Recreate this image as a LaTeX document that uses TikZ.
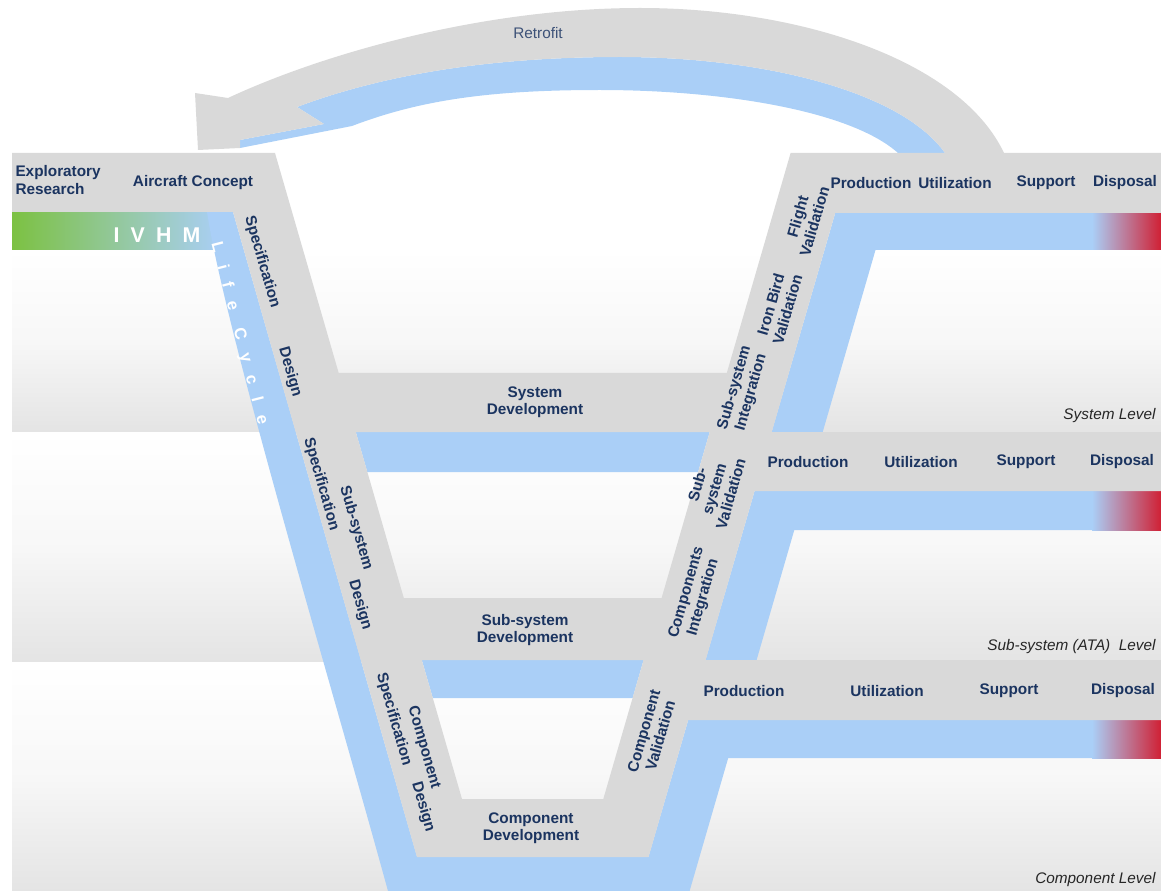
\documentclass[tikz,border=0pt]{standalone}
\usepackage{fontspec}
\setmainfont{Liberation Sans}
\usepackage{tikz}
\definecolor{vgray}{RGB}{217,217,217}
\definecolor{vblue}{RGB}{170,207,247}
\definecolor{vnavy}{RGB}{27,52,96}
\definecolor{ivgreen}{RGB}{124,193,66}
\definecolor{ivred}{RGB}{208,32,52}
\definecolor{bandgray}{RGB}{228,228,228}
\tikzset{every picture/.style={line width=0.75pt}}
\tikzset{
  stage/.style={font=\bfseries\fontsize{11.5}{13}\selectfont, text=vnavy, align=center, inner sep=0.75pt},
  downleg/.style={stage, rotate=-74},
  upleg/.style={stage, rotate=74},
  levelname/.style={font=\itshape\fontsize{11.5}{13}\selectfont, text=black!85, anchor=east, inner sep=0.75pt},
  band/.style={top color=white, bottom color=bandgray, middle color=white!97!black},
  fade/.style={left color=vblue, right color=ivred},
}

\begin{document}
\begin{tikzpicture}[x=0.75pt,y=0.75pt,yscale=-1,xscale=1]
\useasboundingbox (0,0) rectangle (1161,891);

%Shape: Rectangle (level bands)
\fill[band] (12,250) rectangle (1161,432);
\fill[band] (12,432) rectangle (1161,662);
\fill[band] (12,662) rectangle (1161,891);
%Shape: Rectangle (IVHM bar)
\fill[left color=ivgreen, right color=vblue] (12,212) rectangle (222,250);

%Shape: Retrofit arrow, blue side
\fill[vblue] (898,153) .. controls (850,110) and (720,90) .. (600,90) .. controls (490,90) and (420,100) .. (352,126) -- (240,148) -- (240,140) -- (324,124) -- (297,107) .. controls (390,72) and (500,57) .. (620,57) .. controls (760,57) and (900,90) .. (945,153) -- cycle ;
%Shape: Retrofit arrow, grey face
\fill[vgray] (1004,153) .. controls (960,60) and (800,8) .. (640,8) .. controls (480,8) and (320,55) .. (228,98) -- (195,93) -- (198,150) -- (240,148) -- (240,140) -- (324,124) -- (297,107) .. controls (390,72) and (500,57) .. (620,57) .. controls (760,57) and (900,90) .. (945,153) -- cycle ;

%Shape: Polygon (blue outer V)
\fill[vblue] (207,212) .. controls (225,330) and (330,680) .. (388,891) -- (689.6,891) -- (728.2,758) -- (1161,758) -- (1161,720) -- (688.2,720) -- (648.5,857) -- (417,857) -- (233,212) -- cycle ;
%Shape: Polygon (blue under system development)
\fill[vblue] (355.8,432) -- (709.7,432) -- (698.1,472) -- (367.3,472) -- cycle ;
%Shape: Polygon (blue under sub-system development)
\fill[vblue] (421.8,660) -- (643.6,660) -- (632.6,698) -- (432.8,698) -- cycle ;
%Shape: Polygon (blue, system level right)
\fill[vblue] (835.2,213) -- (1161,213) -- (1161,250) -- (875.5,250) -- (822.7,432) -- (771.7,432) -- cycle ;
%Shape: Polygon (blue, sub-system level right)
\fill[vblue] (754.6,491) -- (1161,491) -- (1161,530) -- (794.3,530) -- (756.6,660) -- (705.6,660) -- cycle ;
%Shape: Rectangle (disposal fades)
\fill[fade] (1092,213) rectangle (1161,250);
\fill[fade] (1092,491) rectangle (1161,530);
\fill[fade] (1092,720) rectangle (1161,758);

%Shape: Polygon (grey V with two openings)
\fill[vgray, even odd rule] (12,153) -- (275,153) -- (338.7,373) -- (726.8,373) -- (790.6,153) -- (1161,153) -- (1161,213) -- (835.2,213) -- (771.7,432) -- (1161,432) -- (1161,491) -- (754.6,491) -- (705.6,660) -- (1161,660) -- (1161,720) -- (688.2,720) -- (648.5,857) -- (417,857) -- (233,212) -- (12,212) -- cycle
  (355.8,432) -- (709.7,432) -- (661.6,598) -- (403.8,598) -- cycle
  (421.8,660) -- (643.6,660) -- (603.3,799) -- (462,799) -- cycle ;

% Text Node
\draw (538,33) node (retro) [font=\fontsize{11.5}{13}\selectfont, text=vnavy!85] {Retrofit};
% Text Node
\draw (14,180) node (explore) [stage, anchor=west, align=left] {Exploratory\\Research};
% Text Node
\draw (193,183) node (concept) [stage] {Aircraft Concept};
% Text Node
\draw (157,235) node (ivhm) [font=\bfseries\fontsize{16}{18}\selectfont\addfontfeatures{LetterSpace=52}, text=white] {IVHM};
% Text Node
\draw (239,333) node (life) [font=\bfseries\fontsize{12.5}{14}\selectfont\addfontfeatures{LetterSpace=82}, text=white, rotate=-75.5] {Life Cycle};

% Text Node
\draw (262,262) node (spec1) [downleg] {Specification};
% Text Node
\draw (290,372) node (design1) [downleg] {Design};
% Text Node
\draw (338,504) node (spec2) [downleg, align=left] {\hspace*{42pt}Sub-system\\[3pt]Specification};
% Text Node
\draw (360,605) node (design2) [downleg] {Design};
% Text Node
\draw (408,731) node (spec3) [downleg, align=left] {\hspace*{30pt}Component\\[3pt]Specification};
% Text Node
\draw (423,807) node (design3) [downleg] {Design};

% Text Node
\draw (535,402) node (sysdev) [stage] {System\\Development};
% Text Node
\draw (525,630) node (subdev) [stage] {Sub-system\\Development};
% Text Node
\draw (531,828) node (compdev) [stage] {Component\\Development};

% Text Node
\draw (806,219) node (flight) [upleg] {Flight\\Validation};
% Text Node
\draw (779,307) node (ironbird) [upleg] {Iron Bird\\Validation};
% Text Node
\draw (743,390) node (subint) [upleg] {Sub-system\\Integration};
% Text Node
\draw (714,489) node (subval) [upleg] {Sub-\\system\\Validation};
% Text Node
\draw (695,595) node (compint) [upleg] {Components\\Integration};
% Text Node
\draw (652,733) node (compval) [upleg] {Component\\Validation};

% Text Node
\draw (871,183) node (prodA) [stage] {Production};
\draw (955,183) node (utilA) [stage] {Utilization};
\draw (1046,183) node (suppA) [stage] {Support};
\draw (1125,183) node (dispA) [stage] {Disposal};
% Text Node
\draw (808,462) node (prodB) [stage] {Production};
\draw (921,462) node (utilB) [stage] {Utilization};
\draw (1026,462) node (suppB) [stage] {Support};
\draw (1122,462) node (dispB) [stage] {Disposal};
% Text Node
\draw (744,691) node (prodC) [stage] {Production};
\draw (887,691) node (utilC) [stage] {Utilization};
\draw (1009,691) node (suppC) [stage] {Support};
\draw (1123,691) node (dispC) [stage] {Disposal};

% Text Node
\draw (1157,416) node (lvlsys) [levelname] {System Level};
% Text Node
\draw (1157,647) node (lvlsub) [levelname] {Sub-system (ATA)\ \ Level};
% Text Node
\draw (1157,880) node (lvlcomp) [levelname] {Component Level};

\end{tikzpicture}
\end{document}
